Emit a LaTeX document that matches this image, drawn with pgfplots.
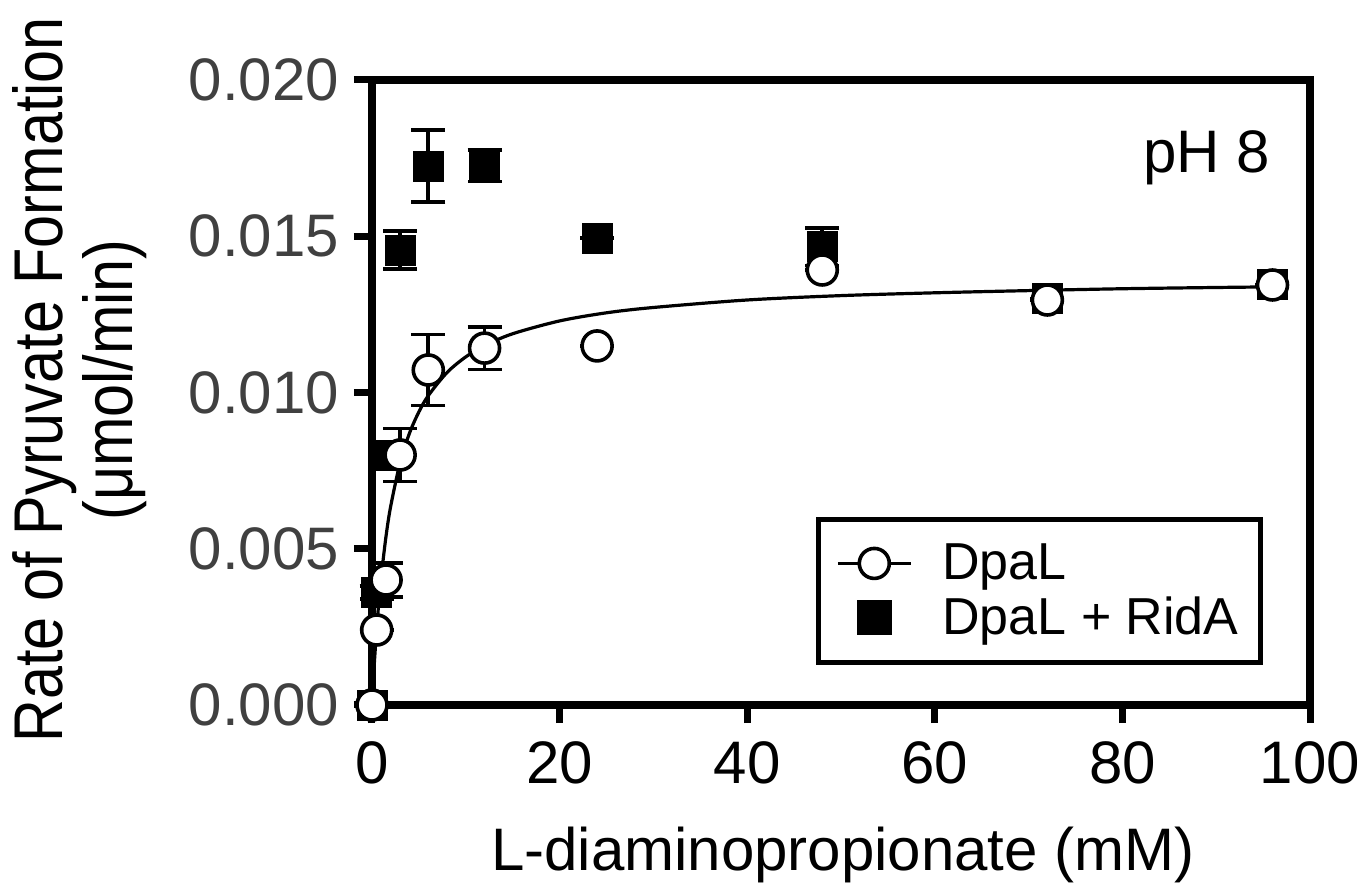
\documentclass[border=0pt]{standalone}
\usepackage{fontspec}
\setmainfont{Liberation Sans}
\newfontfamily\narrowfont[FakeStretch=0.86]{Liberation Sans}
\usepackage{pgfplots}
\pgfplotsset{compat=1.18}
\definecolor{ticklab}{HTML}{404040}

\begin{document}
\begin{tikzpicture}
\useasboundingbox (-186pt,-90.5pt) rectangle (495.5pt,352.5pt);
\begin{axis}[
  at={(0,0)}, anchor=south west,
  scale only axis, width=469pt, height=312.5pt,
  xmin=0, xmax=100, ymin=0, ymax=0.020,
  xtick={0,20,...,100},
  ytick={0,0.005,0.010,0.015,0.020},
  axis line style={line width=4pt},
  tick style={line width=3.5pt, black},
  major tick length=9pt,
  tick align=outside, tick pos=left,
  clip=false,
  /pgf/number format/assume math mode=true,
  yticklabel={\pgfmathprintnumber[fixed, fixed zerofill, precision=3]{\tick}},
  scaled y ticks=false,
  every tick label/.append style={font=\fontsize{30}{36}\selectfont},
  yticklabel style={color=ticklab, xshift=-4pt},
  xticklabel style={yshift=-6pt},
  xlabel={L-diaminopropionate (mM)},
  xlabel style={font=\fontsize{30}{36}\selectfont, at={(axis description cs:0.502,-0.24)}, anchor=center},
  ylabel={Rate of Pyruvate Formation\\(μmol/min)},
  ylabel style={font=\narrowfont\fontsize{34.5}{35}\selectfont, align=center,
    at={(axis description cs:-0.312,0.52)}, anchor=center},
  legend style={at={(axis description cs:0.950,0.064)}, anchor=south east,
    draw=black, line width=2.5pt, font=\fontsize{26}{31}\selectfont,
    row sep=3pt, column sep=13pt, inner xsep=9pt, inner ysep=10.5pt, cells={anchor=west}},
  legend image code/.code={%
    \draw[mark repeat=2, mark phase=2, #1] plot coordinates {(0cm,0cm) (0.64cm,0cm) (1.28cm,0cm)};},
]
% DpaL + RidA (filled squares), drawn first so circles sit on top
\addplot[forget plot, only marks, mark=square*, mark size=7.5pt, black,
  error bars/.cd, y dir=both, y explicit,
  error mark options={line width=1.8pt, mark size=8.5pt, rotate=90},
  error bar style={line width=1.8pt}]
  coordinates {
  (0,0) +- (0,0)
  (0.5,0.0036) +- (0,0.0002)
  (1.5,0.0080) +- (0,0.0003)
  (3,0.01456) +- (0,0.0006)
  (6,0.01725) +- (0,0.00115)
  (12,0.01725) +- (0,0.0005)
  (24,0.01494) +- (0,0)
  (48,0.01466) +- (0,0.0006)
  (72,0.0130) +- (0,0)
  (96,0.01345) +- (0,0)
};
% DpaL (open circles)
\addplot[forget plot, only marks, mark=*, mark size=7.5pt, black,
  mark options={fill=white, line width=1.8pt},
  error bars/.cd, y dir=both, y explicit,
  error mark options={line width=1.8pt, mark size=8.5pt, rotate=90},
  error bar style={line width=1.8pt}]
  coordinates {
  (0,0) +- (0,0)
  (0.5,0.0024) +- (0,0)
  (1.5,0.0040) +- (0,0.00054)
  (3,0.0080) +- (0,0.00085)
  (6,0.01072) +- (0,0.00113)
  (12,0.01142) +- (0,0.00068)
  (24,0.01149) +- (0,0)
  (48,0.01392) +- (0,0)
  (72,0.01296) +- (0,0)
  (96,0.01344) +- (0,0)
};
% fitted curve
\addplot[forget plot, black, line width=1.6pt, smooth, no marks] coordinates {
  (0,0) (0.1,0.00057) (0.25,0.00134) (0.5,0.00245) (0.75,0.00337) (1,0.00415)
  (1.5,0.00541) (2,0.00637) (3,0.00776) (4,0.00870) (5,0.00938) (6,0.00990)
  (8,0.01064) (10,0.01114) (12,0.01150) (15,0.01188) (20,0.01229) (25,0.01255)
  (30,0.01272) (40,0.01296) (50,0.01310) (60,0.01319) (70,0.01326) (80,0.01332)
  (90,0.01336) (96,0.01338)
};
\addlegendimage{black, line width=1.6pt, mark=*, mark size=7.5pt, mark options={fill=white, line width=1.8pt}}
\addlegendentry{DpaL}
\addlegendimage{black, only marks, mark=square*, mark size=7.5pt}
\addlegendentry{DpaL + RidA}
\node[anchor=east, font=\fontsize{30}{36}\selectfont] at (axis cs:96.5,0.0175) {pH 8};
\end{axis}
\end{tikzpicture}
\end{document}
